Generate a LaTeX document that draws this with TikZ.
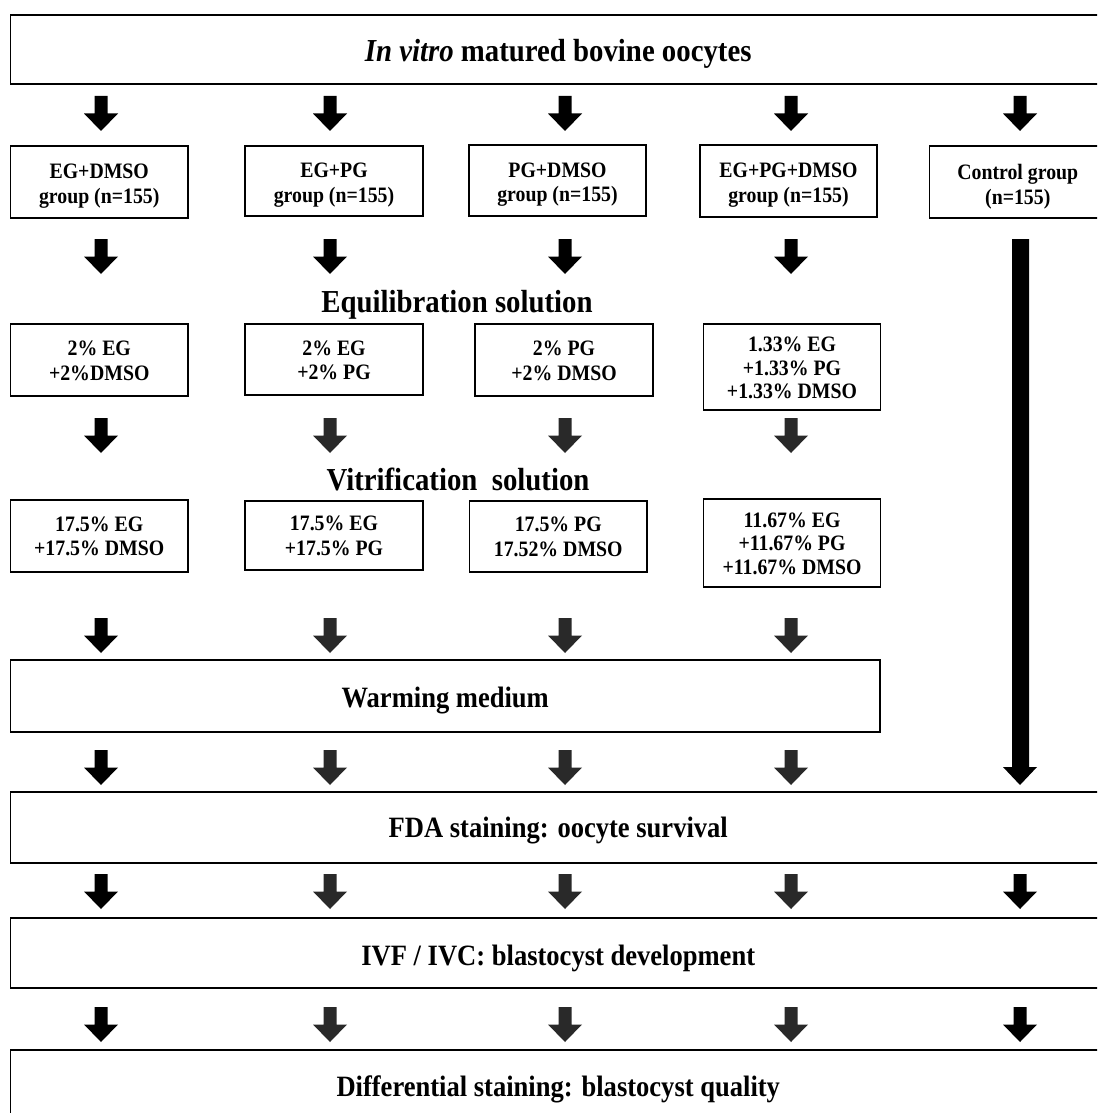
\documentclass[tikz,border=0pt]{standalone}
\usepackage{fontspec}
\setmainfont{Liberation Serif}[FakeStretch=0.9]
\begin{document}
\begin{tikzpicture}[x=1pt,y=-1pt,
  box/.style={draw, line width=1.6pt, inner sep=0pt},
  btext/.style={inner sep=0pt, align=center,
    font=\fontsize{22}{24.5}\selectfont\bfseries},
  ctext/.style={inner sep=0pt, align=center,
    font=\fontsize{22}{23.5}\selectfont\bfseries},
  wtext/.style={inner sep=0pt, align=center,
    font=\fontsize{29.5}{32}\selectfont\bfseries},
  label/.style={inner sep=0pt, font=\fontsize{32}{34}\selectfont\bfseries},
  barrow/.pic={\fill[pic actions] (-6.5,0) -- (6.5,0) -- (6.5,17.5) -- (17,17.5) -- (0,35) -- (-17,17.5) -- (-6.5,17.5) -- cycle;},
  ablack/.style={fill=black},
  agray/.style={fill=black!84}]
\useasboundingbox (0,0) rectangle (1097,1113);
\clip (0,0) rectangle (1097,1113);
\fill[white] (0,0) rectangle (1097,1113);

% top box
\node[box, minimum width=1095.5pt, minimum height=69pt] (top) at (558.25,49.5) {};
\node[label] (topt) at ([yshift=-4pt]top.center) {\textit{In vitro} matured bovine oocytes};

% group boxes
\node[box, minimum width=177.5pt, minimum height=72pt] (g1) at (99.25,182) {};
\node[box, minimum width=178pt, minimum height=70pt] (g2) at (334,181) {};
\node[box, minimum width=177pt, minimum height=71pt] (g3) at (557.5,180.5) {};
\node[box, minimum width=177pt, minimum height=72pt] (g4) at (788.5,181) {};
\node[box, minimum width=176.5pt, minimum height=72pt] (g5) at (1017.75,182) {};
\node[btext] (g1t) at ([yshift=-4pt]g1.center) {EG+DMSO\\group (n=155)};
\node[btext] (g2t) at ([yshift=-4pt]g2.center) {EG+PG\\group (n=155)};
\node[btext] (g3t) at ([yshift=-4pt]g3.center) {PG+DMSO\\group (n=155)};
\node[btext] (g4t) at ([yshift=-4pt]g4.center) {EG+PG+DMSO\\group (n=155)};
\node[btext] (g5t) at ([yshift=-4.5pt]g5.center) {Control group\\(n=155)};

% labels
\node[label] (eqlab) at (457,305) {Equilibration solution};
\node[label] (vitlab) at (458,479) {Vitrification\ \ solution};

% equilibration boxes
\node[box, minimum width=177.5pt, minimum height=72pt] (e1) at (99.25,360) {};
\node[box, minimum width=178pt, minimum height=71pt] (e2) at (334,359.5) {};
\node[box, minimum width=178pt, minimum height=72pt] (e3) at (564,360) {};
\node[box, minimum width=177pt, minimum height=86pt] (e4) at (792,367) {};
\node[btext] (e1t) at ([yshift=-1pt]e1.center) {2\% EG\\+2\%DMSO};
\node[btext] (e2t) at ([yshift=-1pt]e2.center) {2\% EG\\+2\% PG};
\node[btext] (e3t) at ([yshift=-1pt]e3.center) {2\% PG\\+2\% DMSO};
\node[ctext] (e4t) at ([yshift=-1pt]e4.center) {1.33\% EG\\+1.33\% PG\\+1.33\% DMSO};

% vitrification boxes
\node[box, minimum width=177.5pt, minimum height=72pt] (v1) at (99.25,536) {};
\node[box, minimum width=178pt, minimum height=69pt] (v2) at (334,535.5) {};
\node[box, minimum width=177.5pt, minimum height=71pt] (v3) at (558.25,536.5) {};
\node[box, minimum width=177pt, minimum height=88pt] (v4) at (792,543) {};
\node[btext] (v1t) at ([yshift=-0.5pt]v1.center) {17.5\% EG\\+17.5\% DMSO};
\node[btext] (v2t) at ([yshift=-0.5pt]v2.center) {17.5\% EG\\+17.5\% PG};
\node[btext] (v3t) at ([yshift=-0.5pt]v3.center) {17.5\% PG\\17.52\% DMSO};
\node[ctext] (v4t) at ([yshift=-0.5pt]v4.center) {11.67\% EG\\+11.67\% PG\\+11.67\% DMSO};

% wide boxes
\node[box, minimum width=869.5pt, minimum height=72pt] (warm) at (445.25,696) {};
\node[box, minimum width=1095.5pt, minimum height=71pt] (fda) at (558.25,827.5) {};
\node[box, minimum width=1095.5pt, minimum height=70pt] (ivf) at (558.25,953) {};
\node[box, minimum width=1095.5pt, minimum height=75pt] (diff) at (558.25,1087.5) {};
\node[wtext] (warmt) at ([yshift=-4.5pt]warm.center) {Warming medium};
\node[wtext] (fdat) at ([yshift=-3.5pt]fda.center) {FDA staining: oocyte survival};
\node[wtext] (ivft) at ([yshift=-5.5pt]ivf.center) {IVF / IVC: blastocyst development};
\node[wtext] (difft) at ([yshift=-1.5pt]diff.center) {Differential staining: blastocyst quality};

% block arrows
\foreach \r in {96,239} {
  \foreach \c in {101,330,565,791} { \pic[ablack] at (\c,\r) {barrow}; }
}
\pic[ablack] at (1020,96) {barrow};
\foreach \r in {418,618,750,874,1007} {
  \pic[ablack] at (101,\r) {barrow};
  \foreach \c in {330,565,791} { \pic[agray] at (\c,\r) {barrow}; }
}
\foreach \r in {874,1007} { \pic[ablack] at (1020,\r) {barrow}; }

% long control arrow
\fill[black] (1012,239) -- (1029,239) -- (1029,767) -- (1037,767) -- (1020,785) -- (1003,767) -- (1012,767) -- cycle;
\end{tikzpicture}
\end{document}
